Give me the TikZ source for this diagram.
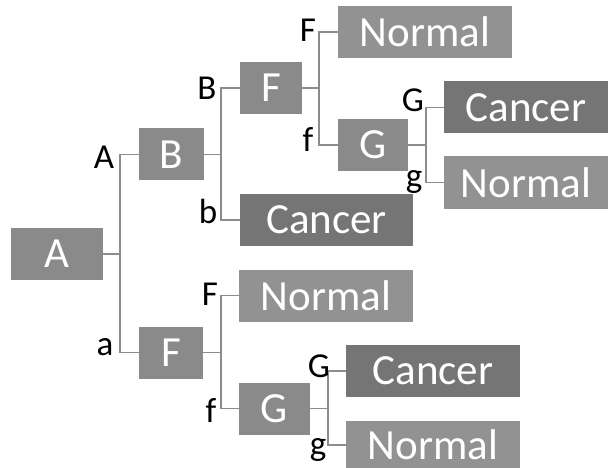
\documentclass[tikz,border=0pt]{standalone}
\usepackage{fontspec}
\setmainfont{Carlito}
\definecolor{midbox}{HTML}{8A8A8A}
\definecolor{cancerbox}{HTML}{757575}
\definecolor{normalbox}{HTML}{929292}
\definecolor{linegrey}{HTML}{8C8C8C}
\tikzset{
  gbox/.style={fill=midbox, text=white, minimum height=52pt, inner sep=0pt,
    font=\fontsize{43}{43}\selectfont},
  cbox/.style={gbox, fill=cancerbox, minimum width=174pt},
  nbox/.style={gbox, fill=normalbox, minimum width=174pt},
  lbl/.style={anchor=base, inner sep=0pt, text=black, font=\fontsize{35}{35}\selectfont},
  conn/.style={draw=linegrey, line width=1.4pt}
}
\begin{document}
\begin{tikzpicture}[x=1pt,y=-1pt]
\useasboundingbox (0,0) rectangle (608,468);
% boxes
\node[gbox, minimum width=92pt] (A) at (57,254) {A};
\node[gbox, minimum width=65pt] (B) at (171.5,154.5) {B};
\node[gbox, minimum width=64pt] (Fa) at (171,352.5) {F};
\node[gbox, minimum width=62pt] (Fb) at (271,88) {F};
\node[cbox, minimum width=173pt] (Cb) at (326.5,220) {Cancer};
\node[nbox] (N1) at (425,32) {Normal};
\node[gbox, minimum width=70pt] (G1) at (373,145) {G};
\node[cbox, minimum width=164pt] (C1) at (526,107.5) {Cancer};
\node[nbox, minimum width=164pt] (N2) at (526,182.5) {Normal};
\node[nbox] (N3) at (326,295.5) {Normal};
\node[gbox, minimum width=71pt] (G2) at (274.5,408.5) {G};
\node[cbox] (C2) at (433,371) {Cancer};
\node[nbox, minimum height=48pt] (N4) at (433,445) {Normal};
% junctions
\coordinate (jA) at (120,254);
\coordinate (jB) at (221,154.5);
\coordinate (jFb) at (319,88);
\coordinate (jG1) at (426,145);
\coordinate (jFa) at (221,352.5);
\coordinate (jG2) at (328,408.5);
% connectors
\draw[conn] (A.east) -- (jA);
\draw[conn] (B.west) -- (jA |- B.west) -- (jA |- Fa.west) -- (Fa.west);
\draw[conn] (B.east) -- (jB);
\draw[conn] (Fb.west) -- (jB |- Fb.west) -- (jB |- Cb.west) -- (Cb.west);
\draw[conn] (Fb.east) -- (jFb);
\draw[conn] (N1.west) -- (jFb |- N1.west) -- (jFb |- G1.west) -- (G1.west);
\draw[conn] (G1.east) -- (jG1);
\draw[conn] (C1.west) -- (jG1 |- C1.west) -- (jG1 |- N2.west) -- (N2.west);
\draw[conn] (Fa.east) -- (jFa);
\draw[conn] (N3.west) -- (jFa |- N3.west) -- (jFa |- G2.west) -- (G2.west);
\draw[conn] (G2.east) -- (jG2);
\draw[conn] (C2.west) -- (jG2 |- C2.west) -- (jG2 |- N4.west) -- (N4.west);
% labels
\node[lbl] (lA) at (104,168) {A};
\node[lbl] (la) at (105,355) {a};
\node[lbl] (lB) at (207,100) {B};
\node[lbl] (lb) at (208,223) {b};
\node[lbl] (lF1) at (308,42) {F};
\node[lbl] (lf1) at (308,152) {f};
\node[lbl] (lG1) at (413,112) {G};
\node[lbl] (lg1) at (414,187) {g};
\node[lbl] (lF2) at (210,305) {F};
\node[lbl] (lf2) at (211,422) {f};
\node[lbl] (lG2) at (319,377) {G};
\node[lbl] (lg2) at (318,455) {g};
\end{tikzpicture}
\end{document}
